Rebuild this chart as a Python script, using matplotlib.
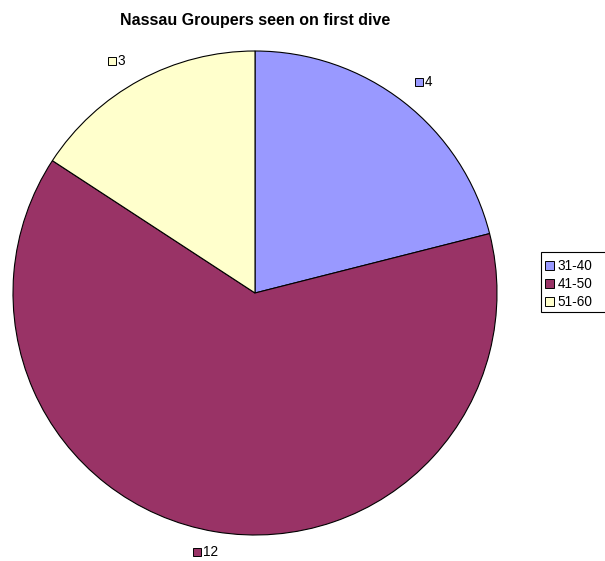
import matplotlib.pyplot as plt
from matplotlib.patches import Patch, Rectangle

plt.rcParams['font.family'] = ['Liberation Sans', 'DejaVu Sans']

# age groups and number of groupers seen
categories = ['31-40', '41-50', '51-60']
counts = [4, 12, 3]
colors = ['#9999FF', '#993366', '#FFFFCC']

W, H = 605, 561
fig = plt.figure(figsize=(W / 100, H / 100), dpi=100)

# pie centre (255, 293) px, radius 242 px
cx, cy, r = 255, 293, 242
ax = fig.add_axes([(cx - r) / W, (H - cy - r) / H, 2 * r / W, 2 * r / H])
ax.pie(counts, colors=colors, startangle=90, counterclock=False, radius=1,
       wedgeprops=dict(edgecolor='black', linewidth=0.8))
ax.set_xlim(-1, 1)
ax.set_ylim(-1, 1)
ax.set_aspect('equal')
ax.axis('off')

# data labels (Excel puts them where it likes, so positions)
label_px = [(419, 82), (197, 552), (112, 61)]
for (px, py), val, col in zip(label_px, counts, colors):
    x = (px - cx) / r
    y = (cy - py) / r
    ax.plot([x], [y], marker='s', markersize=6, markerfacecolor=col,
            markeredgecolor='black', markeredgewidth=0.7, clip_on=False)
    ax.text(x + 6 / r, y, str(val), fontsize=9.8, va='center', ha='left',
            clip_on=False)

fig.text(255 / W, 1 - 20 / H, 'Nassau Groupers seen on first dive',
         ha='center', va='center', fontsize=11.5, fontweight='bold')

# legend box runs off the right edge in the original
fig.patches.append(Rectangle((541 / W, 1 - 312 / H), 80 / W, 60 / H,
                             transform=fig.transFigure, facecolor='white',
                             edgecolor='black', linewidth=0.8))
handles = [Patch(facecolor=c, edgecolor='black', linewidth=0.7) for c in colors]
leg = fig.legend(handles, categories, loc='center left',
                 bbox_to_anchor=(545 / W, 1 - 284 / H), fontsize=9.8,
                 frameon=False, handlelength=0.65, handleheight=0.65,
                 handletextpad=0.25, labelspacing=0.3,
                 borderpad=0, borderaxespad=0)

fig.savefig('out.png', dpi=100)
